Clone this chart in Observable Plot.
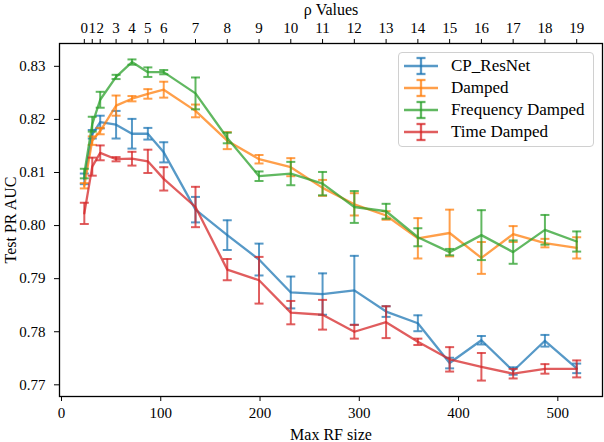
<!DOCTYPE html>
<html>
<head>
<meta charset="utf-8">
<script src="https://cdn.jsdelivr.net/npm/d3@7"></script>
<script src="https://cdn.jsdelivr.net/npm/@observablehq/plot@0.6"></script>
<style>
  html, body { margin: 0; padding: 0; background: #fff; }
  #chart { position: relative; width: 604px; height: 442px; font-family: "Liberation Serif", "Times New Roman", "DejaVu Serif", serif; }
  #chart svg text { font-family: "Liberation Serif", "Times New Roman", "DejaVu Serif", serif; }
  #chart g[aria-label$="axis label"] { font-size: 16px; }
  #legend {
    position: absolute; left: 398px; top: 52px; width: 196px; height: 95px;
    border: 1px solid #d0d0d0; border-radius: 4px; background: rgba(255,255,255,0.8);
    box-sizing: border-box;
  }
  .item { position: absolute; left: 4px; height: 20px; display: flex; align-items: center; }
  .item span { font-size: 17px; margin-left: 12px; white-space: nowrap; }
</style>
</head>
<body>
<div id="chart"><div id="legend"></div></div>
<script>
// receptive field sizes and the rho value each one belongs to
const rfSizes = [23, 31, 39, 55, 71, 87, 103, 135, 167, 199, 231, 263, 295, 327, 359, 391, 423, 455, 487, 519];
const rho = [0, 1, 2, 3, 4, 5, 6, 7, 8, 9, 10, 11, 12, 13, 14, 15, 16, 17, 18, 19];
const xTicks = [0, 100, 200, 300, 400, 500];
const yTicks = [0.77, 0.78, 0.79, 0.80, 0.81, 0.82, 0.83];

const names = ["CP_ResNet", "Damped", "Frequency Damped", "Time Damped"];
const colors = ["#1f77b4", "#ff7f0e", "#2ca02c", "#d62728"];

const cpMean = [0.8088, 0.8172, 0.8195, 0.8190, 0.8173, 0.8173, 0.8138, 0.8030, 0.7982, 0.7936, 0.7874, 0.7871, 0.7878, 0.7838, 0.7816, 0.7741, 0.7784, 0.7726, 0.7783, 0.7731];
const cpErr  = [0.0010, 0.0008, 0.0012, 0.0026, 0.0028, 0.0011, 0.0019, 0.0024, 0.0028, 0.0030, 0.0030, 0.0039, 0.0065, 0.0010, 0.0015, 0.0010, 0.0008, 0.0007, 0.0011, 0.0009];

const dampMean = [0.8075, 0.8160, 0.8178, 0.8226, 0.8239, 0.8248, 0.8256, 0.8216, 0.8160, 0.8125, 0.8110, 0.8071, 0.8040, 0.8019, 0.7976, 0.7986, 0.7939, 0.7984, 0.7967, 0.7958];
const dampErr  = [0.0005, 0.0008, 0.0006, 0.0019, 0.0005, 0.0009, 0.0015, 0.0012, 0.0016, 0.0008, 0.0017, 0.0015, 0.0021, 0.0008, 0.0038, 0.0044, 0.0030, 0.0015, 0.0008, 0.0020];

const freqMean = [0.8098, 0.8191, 0.8237, 0.8280, 0.8308, 0.8289, 0.8289, 0.8249, 0.8165, 0.8093, 0.8098, 0.8079, 0.8035, 0.8027, 0.7978, 0.7950, 0.7982, 0.7950, 0.7992, 0.7970];
const freqErr  = [0.0009, 0.0014, 0.0015, 0.0004, 0.0005, 0.0009, 0.0004, 0.0030, 0.0010, 0.0009, 0.0022, 0.0022, 0.0030, 0.0014, 0.0017, 0.0006, 0.0047, 0.0022, 0.0028, 0.0019];

const timeMean = [0.8023, 0.8111, 0.8137, 0.8125, 0.8126, 0.8121, 0.8088, 0.8035, 0.7917, 0.7897, 0.7836, 0.7832, 0.7800, 0.7818, 0.7781, 0.7748, 0.7734, 0.7721, 0.7730, 0.7730];
const timeErr  = [0.0020, 0.0017, 0.0014, 0.0004, 0.0013, 0.0022, 0.0022, 0.0038, 0.0020, 0.0044, 0.0022, 0.0028, 0.0013, 0.0030, 0.0006, 0.0023, 0.0026, 0.0009, 0.0009, 0.0016];

const means = [cpMean, dampMean, freqMean, timeMean];
const errs = [cpErr, dampErr, freqErr, timeErr];

// horizontal bar used as error bar cap
const cap = {
  draw(ctx, size) {
    const w = Math.sqrt(size / Math.PI);
    ctx.moveTo(-w, 0);
    ctx.lineTo(w, 0);
  }
};

function seriesMarks(k) {
  const rows = rfSizes.map((rf, i) => ({ rf, mean: means[k][i], lo: means[k][i] - errs[k][i], hi: means[k][i] + errs[k][i] }));
  const caps = rows.flatMap(d => [{ rf: d.rf, v: d.lo }, { rf: d.rf, v: d.hi }]);
  const style = { stroke: colors[k], strokeOpacity: 0.75, strokeWidth: 2.3 };
  return [
    Plot.line(rows, { x: "rf", y: "mean", ...style }),
    Plot.ruleX(rows, { x: "rf", y1: "lo", y2: "hi", ...style, strokeWidth: 2 }),
    Plot.dot(caps, { x: "rf", y: "v", symbol: cap, r: 4.5, fill: "none", ...style, strokeWidth: 2 }),
  ];
}

const plot = Plot.plot({
  width: 604,
  height: 442,
  marginLeft: 59,
  marginRight: 2,
  marginTop: 43,
  marginBottom: 46,
  style: { fontFamily: "'Liberation Serif', 'Times New Roman', 'DejaVu Serif', serif", fontSize: "15px", color: "black", background: "white" },
  x: { domain: [-2, 545] },
  y: { domain: [0.7678, 0.8343] },
  marks: [
    Plot.axisX({ anchor: "bottom", ticks: xTicks, tickSize: 5, tickPadding: 6, label: "Max RF size",
      labelAnchor: "center", labelArrow: "none" }),
    Plot.axisX({ anchor: "top", ticks: rfSizes, tickSize: 5, tickPadding: 6,
      tickFormat: d => String(rho[rfSizes.indexOf(d)]),
      label: "ρ Values", labelAnchor: "center", labelArrow: "none" }),
    Plot.axisY({ anchor: "left", ticks: yTicks, tickFormat: d3.format(".2f"), tickSize: 5, tickPadding: 9,
      label: "Test PR AUC", labelAnchor: "center", labelArrow: "none", labelOffset: 55 }),
    ...names.flatMap((n, k) => seriesMarks(k)),
    Plot.frame({ stroke: "black", strokeWidth: 1.3 }),
  ],
});

const chart = document.getElementById("chart");
chart.insertBefore(plot, chart.firstChild);

// legend inside the top-right corner
const legend = d3.select("#legend");
names.forEach((n, k) => {
  const item = legend.append("div").attr("class", "item").style("top", (3 + k * 22) + "px");
  const svg = item.append("svg").attr("width", 36).attr("height", 20);
  const g = svg.append("g").attr("stroke", colors[k]).attr("stroke-opacity", 0.75).attr("stroke-width", 2.3);
  g.append("line").attr("x1", 1).attr("x2", 35).attr("y1", 10).attr("y2", 10);
  g.append("line").attr("x1", 18).attr("x2", 18).attr("y1", 2).attr("y2", 18);
  g.append("line").attr("x1", 13.5).attr("x2", 22.5).attr("y1", 2).attr("y2", 2);
  g.append("line").attr("x1", 13.5).attr("x2", 22.5).attr("y1", 18).attr("y2", 18);
  item.append("span").text(n);
});
</script>
</body>
</html>
